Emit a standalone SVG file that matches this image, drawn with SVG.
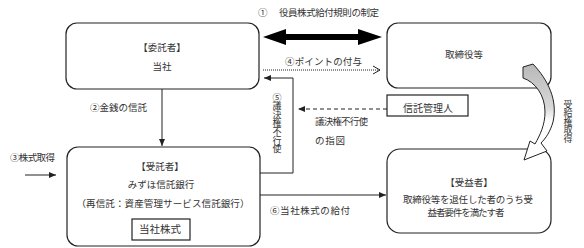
<svg xmlns="http://www.w3.org/2000/svg" width="584" height="248" viewBox="0 0 584 248">
<style>
text{font-family:"Liberation Serif","Noto Sans CJK JP",serif;font-size:9.5px;fill:#333}
.c{text-anchor:middle}
.box{fill:#fff;stroke:#222;stroke-width:1.2}
.ln{fill:none;stroke:#222;stroke-width:1}
.v{font-size:9px;text-anchor:middle}
</style>
<defs>
<marker id="ah" markerUnits="userSpaceOnUse" markerWidth="7" markerHeight="6" refX="7" refY="3" orient="auto">
<path d="M0,0 L7,3 L0,6 Z" fill="#222"/>
</marker>
<marker id="open" markerUnits="userSpaceOnUse" markerWidth="9" markerHeight="10" refX="8" refY="5" orient="auto">
<path d="M1,1 L8,5 L1,9" fill="none" stroke="#222" stroke-width="1"/>
</marker>
<linearGradient id="gg" x1="0" y1="0" x2="0" y2="1">
<stop offset="0" stop-color="#b8b8b8"/>
<stop offset="0.45" stop-color="#d8d8d8"/>
<stop offset="0.6" stop-color="#fff"/>
<stop offset="1" stop-color="#fff"/>
</linearGradient>
</defs>

<g id="itakusha">
<rect class="box" x="66" y="23" width="193" height="66" rx="11"/>
<text class="c" x="162" y="51">【委託者】</text>
<text class="c" x="162" y="70">当社</text>
</g>

<g id="torishimari">
<rect class="box" x="387" y="23" width="164" height="65" rx="11"/>
<text class="c" x="464" y="58">取締役等</text>
</g>

<g id="shintakukanri">
<rect class="box" x="387" y="95" width="81" height="21"/>
<text class="c" x="428" y="112" style="font-size:10px">信託管理人</text>
</g>

<g id="jutakusha">
<rect class="box" x="67" y="147" width="193" height="99" rx="11"/>
<text class="c" x="160" y="170">【受託者】</text>
<text class="c" x="161" y="188">みずほ信託銀行</text>
<text class="c" x="163" y="207" textLength="173" lengthAdjust="spacing">（再信託：資産管理サービス信託銀行）</text>
</g>

<g id="toshakabushiki">
<rect class="box" x="132" y="219" width="58" height="21"/>
<text class="c" x="160" y="233" style="font-size:10.5px">当社株式</text>
</g>

<g id="jueki">
<rect class="box" x="387" y="149" width="164" height="84" rx="13"/>
<text class="c" x="469" y="186">【受益者】</text>
<text class="c" x="468" y="203" textLength="130" lengthAdjust="spacing">取締役等を退任した者のうち受</text>
<text class="c" x="466" y="216" textLength="77" lengthAdjust="spacing">益者要件を満たす者</text>
</g>

<g id="connectors">
<polygon points="263,37 286,29 286,34 358,34 358,29 382,37 358,45 358,40 286,40 286,45" fill="#000"/>
<text x="258" y="16">①</text>
<text x="279" y="16" textLength="100" lengthAdjust="spacing">役員株式給付規則の制定</text>
<line class="ln" x1="263" y1="70" x2="380" y2="70" stroke-dasharray="1,1" marker-end="url(#open)"/>
<text x="285" y="65" textLength="77" lengthAdjust="spacing">④ポイントの付与</text>
<line class="ln" x1="162" y1="89" x2="162" y2="146" marker-end="url(#ah)"/>
<text x="90" y="111" textLength="57" lengthAdjust="spacing">②金銭の信託</text>
<polyline class="ln" points="260,173 293,173 293,78 264,78" marker-end="url(#ah)"/>
<text class="v" x="277 277 277 277 277 277 277" y="100.6 109.2 117.8 126.4 135 143.6 152.2">⑤議決権不行使</text>
<line class="ln" x1="387" y1="109" x2="298" y2="109" stroke-dasharray="4,3" marker-end="url(#ah)"/>
<text x="315" y="125" textLength="53" lengthAdjust="spacing">議決権不行使</text>
<text x="315" y="144" textLength="30" lengthAdjust="spacing">の指図</text>
<line class="ln" x1="260" y1="195" x2="386" y2="195" marker-end="url(#ah)"/>
<text x="270" y="214" textLength="80" lengthAdjust="spacing">⑥当社株式の給付</text>
<line class="ln" x1="25" y1="175" x2="56" y2="175" marker-end="url(#ah)"/>
<text x="10" y="161" textLength="45" lengthAdjust="spacing">③株式取得</text>
<path d="M523,67 L533,64 C548,80 558,100 553,122 C550,132 546,138 541,143 L547,151 L524,160 L530,141 L535,144 C540,135 545,125 545,112 C545,95 535,82 523,78 Z" fill="url(#gg)" stroke="#222" stroke-width="1"/>
<text class="v" x="568 568 568 568 568" y="107.6 116.2 124.8 133.4 142">受給権取得</text>
</g>
</svg>
